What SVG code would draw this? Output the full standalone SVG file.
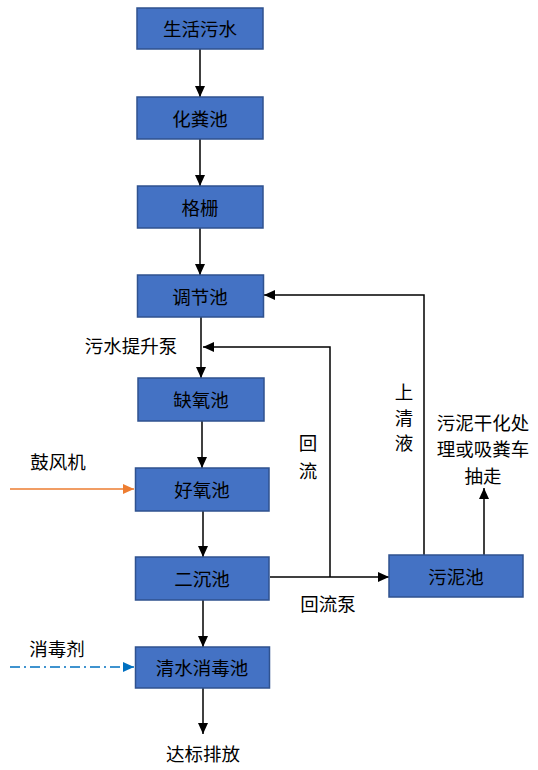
<svg xmlns="http://www.w3.org/2000/svg" width="538" height="770" viewBox="0 0 538 770">
<style>
.box{fill:#4472C4;stroke:#2F528F;stroke-width:1.5}
.t{font-family:"Noto Sans CJK SC","Liberation Sans",sans-serif;font-size:18.5px;fill:#000;text-anchor:middle;dominant-baseline:central}
.ln{fill:none;stroke:#000;stroke-width:1.5}
</style>
<defs>
<marker id="ah" markerUnits="userSpaceOnUse" markerWidth="11" markerHeight="10" refX="11" refY="5" orient="auto"><path d="M0,0 L11,5 L0,10 z" fill="#000"/></marker>
<marker id="ao" markerUnits="userSpaceOnUse" markerWidth="11" markerHeight="10" refX="11" refY="5" orient="auto"><path d="M0,0 L11,5 L0,10 z" fill="#ED7D31"/></marker>
<marker id="ab" markerUnits="userSpaceOnUse" markerWidth="11" markerHeight="10" refX="11" refY="5" orient="auto"><path d="M0,0 L11,5 L0,10 z" fill="#0070C0"/></marker>
</defs>
<rect width="538" height="770" fill="#fff"/>
<g id="connectors">
<path class="ln" d="M200,49 V97" marker-end="url(#ah)"/>
<path class="ln" d="M200,139 V186" marker-end="url(#ah)"/>
<path class="ln" d="M200,228 V275" marker-end="url(#ah)"/>
<path class="ln" d="M201,317 V378" marker-end="url(#ah)"/>
<path class="ln" d="M202,421 V468" marker-end="url(#ah)"/>
<path class="ln" d="M203,511 V557" marker-end="url(#ah)"/>
<path class="ln" d="M203,600 V647" marker-end="url(#ah)"/>
<path class="ln" d="M203,688 V734" marker-end="url(#ah)"/>
<path class="ln" d="M270,577 H389" marker-end="url(#ah)"/>
<path class="ln" d="M330,577 V347 H203" marker-end="url(#ah)"/>
<path class="ln" d="M424,555 V295 H264" marker-end="url(#ah)"/>
<path class="ln" d="M484,555 V488" marker-end="url(#ah)"/>
<path d="M10,489 H134" fill="none" stroke="#ED7D31" stroke-width="1.5" marker-end="url(#ao)"/>
<path d="M10,667 H134" fill="none" stroke="#0070C0" stroke-width="1.5" stroke-dasharray="10,4,2,4" marker-end="url(#ab)"/>
</g>
<g id="n1"><rect class="box" x="137" y="8" width="126" height="41"/><text class="t" x="200" y="28">生活污水</text></g>
<g id="n2"><rect class="box" x="137" y="97" width="126" height="42"/><text class="t" x="200" y="118">化粪池</text></g>
<g id="n3"><rect class="box" x="137.5" y="186" width="125.5" height="42"/><text class="t" x="200" y="207">格栅</text></g>
<g id="n4"><rect class="box" x="137.5" y="275" width="126" height="42"/><text class="t" x="200" y="296">调节池</text></g>
<g id="n5"><rect class="box" x="138" y="378" width="126" height="43"/><text class="t" x="201" y="399">缺氧池</text></g>
<g id="n6"><rect class="box" x="135.5" y="468" width="133.5" height="43"/><text class="t" x="202" y="489">好氧池</text></g>
<g id="n7"><rect class="box" x="135.5" y="557" width="133.5" height="43"/><text class="t" x="202" y="578">二沉池</text></g>
<g id="n8"><rect class="box" x="135.5" y="647" width="134" height="41"/><text class="t" x="202" y="667">清水消毒池</text></g>
<g id="n9"><rect class="box" x="389" y="555" width="134" height="42"/><text class="t" x="456" y="576">污泥池</text></g>
<g id="labels">
<text class="t" x="131" y="345">污水提升泵</text>
<text class="t" x="308" y="442">回</text>
<text class="t" x="308" y="470">流</text>
<text class="t" x="404" y="391">上</text>
<text class="t" x="404" y="417">清</text>
<text class="t" x="404" y="442">液</text>
<text class="t" x="483" y="422">污泥干化处</text>
<text class="t" x="483" y="448">理或吸粪车</text>
<text class="t" x="483" y="475">抽走</text>
<text class="t" x="328" y="603">回流泵</text>
<text class="t" x="58" y="461">鼓风机</text>
<text class="t" x="57" y="648">消毒剂</text>
<text class="t" x="203" y="753">达标排放</text>
</g>
</svg>
